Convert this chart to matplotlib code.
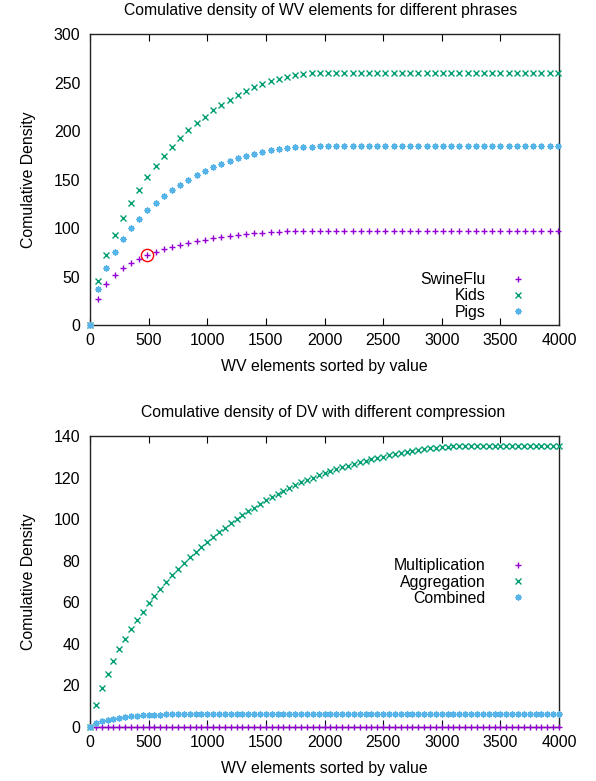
import numpy as np
import matplotlib
matplotlib.use("Agg")
import matplotlib.pyplot as plt

plt.rcParams['font.family'] = ['Liberation Sans', 'DejaVu Sans']

# ---------------- data: top chart (WV elements, step 70) ----------------
wv_x = np.arange(58) * 70
swineflu = [0, 26.8, 41.9, 51.5, 58.4, 63.6, 68.0, 72.2, 74.9, 78.0,
            80.4, 82.5, 84.5, 86.6, 88.0, 89.3, 90.4, 91.7, 92.8, 93.8,
            94.5, 95.2, 95.5, 95.9, 96.5, 96.9, 97.0, 97.1, 97.2, 97.2,
            97.2, 97.2, 97.2, 97.2, 97.2, 97.2, 97.2, 97.2, 97.2, 97.2,
            97.2, 97.2, 97.2, 97.2, 97.2, 97.2, 97.2, 97.2, 97.2, 97.2,
            97.2, 97.2, 97.2, 97.2, 97.2, 97.2, 97.2, 97.2]
kids = [0, 45.4, 72.2, 92.8, 110.3, 125.8, 139.5, 152.2, 163.6, 173.9,
        183.5, 192.4, 201.0, 208.2, 214.8, 221.3, 227.1, 231.9, 236.7, 240.9,
        245.0, 248.4, 251.2, 253.6, 255.6, 257.7, 258.8, 259.5, 259.9, 260.0,
        260.0, 260.0, 260.0, 260.0, 260.0, 260.0, 260.0, 260.0, 260.0, 260.0,
        260.0, 260.0, 260.0, 260.0, 260.0, 260.0, 260.0, 260.0, 260.0, 260.0,
        260.0, 260.0, 260.0, 260.0, 260.0, 260.0, 260.0, 260.0]
pigs = [0, 37.1, 59.1, 75.2, 88.3, 99.6, 109.6, 118.9, 126.1, 133.3,
        139.5, 144.7, 149.8, 154.6, 158.7, 162.5, 166.0, 169.1, 172.1, 174.2,
        176.3, 178.3, 180.0, 181.8, 182.8, 183.3, 183.7, 184.0, 184.2, 184.3,
        184.3, 184.3, 184.3, 184.3, 184.3, 184.3, 184.3, 184.3, 184.3, 184.3,
        184.3, 184.3, 184.3, 184.3, 184.3, 184.3, 184.3, 184.3, 184.3, 184.3,
        184.3, 184.3, 184.3, 184.3, 184.3, 184.3, 184.3, 184.3]
highlight_x = [490]
highlight_y = [72.2]

# ---------------- data: bottom chart (DV, step 50) ----------------
dv_x = np.arange(81) * 50
multiplication = [0, 0.04, 0.06, 0.08, 0.09, 0.10, 0.11, 0.11, 0.12, 0.12,
                  0.12, 0.13, 0.13, 0.13, 0.13, 0.14, 0.14, 0.14, 0.14, 0.14,
                  0.14, 0.14, 0.15, 0.15, 0.15, 0.15, 0.15, 0.15, 0.15, 0.15,
                  0.15, 0.15, 0.15, 0.15, 0.15, 0.15, 0.15, 0.15, 0.15, 0.15,
                  0.15, 0.15, 0.15, 0.15, 0.15, 0.15, 0.15, 0.15, 0.15, 0.15,
                  0.15, 0.15, 0.15, 0.15, 0.15, 0.15, 0.15, 0.15, 0.15, 0.15,
                  0.15, 0.15, 0.15, 0.15, 0.15, 0.15, 0.15, 0.15, 0.15, 0.15,
                  0.15, 0.15, 0.15, 0.15, 0.15, 0.15, 0.15, 0.15, 0.15, 0.15,
                  0.15]
aggregation = [0, 10.6, 18.8, 25.7, 31.9, 37.4, 42.5, 47.1, 51.5, 55.3,
               59.5, 63.2, 66.6, 69.9, 73.0, 76.0, 78.7, 81.6, 84.2, 86.8,
               89.0, 91.4, 93.8, 95.9, 98.0, 99.9, 101.8, 103.8, 105.5, 107.3,
               109.1, 110.7, 112.1, 113.5, 115.1, 116.4, 117.7, 118.9, 120.0, 121.1,
               122.1, 123.1, 124.0, 124.9, 125.8, 126.6, 127.4, 128.1, 128.8, 129.5,
               130.1, 130.7, 131.3, 131.8, 132.3, 132.8, 133.2, 133.6, 134.0, 134.3,
               134.6, 134.8, 135.0, 135.1, 135.2, 135.3, 135.3, 135.3, 135.3, 135.3,
               135.3, 135.3, 135.3, 135.3, 135.3, 135.3, 135.3, 135.3, 135.3, 135.3,
               135.3]
combined = [0, 1.8, 2.9, 3.5, 4.0, 4.5, 4.8, 5.1, 5.4, 5.6,
            5.8, 5.9, 6.0, 6.05, 6.1, 6.15, 6.2, 6.2, 6.25, 6.25,
            6.3, 6.3, 6.3, 6.3, 6.3, 6.3, 6.3, 6.3, 6.3, 6.3,
            6.3, 6.3, 6.3, 6.3, 6.3, 6.3, 6.3, 6.3, 6.3, 6.3,
            6.3, 6.3, 6.3, 6.3, 6.3, 6.3, 6.3, 6.3, 6.3, 6.3,
            6.3, 6.3, 6.3, 6.3, 6.3, 6.3, 6.3, 6.3, 6.3, 6.3,
            6.3, 6.3, 6.3, 6.3, 6.3, 6.3, 6.3, 6.3, 6.3, 6.3,
            6.3, 6.3, 6.3, 6.3, 6.3, 6.3, 6.3, 6.3, 6.3, 6.3,
            6.3]

top_title = "Comulative density of WV elements for different phrases"
bottom_title = "Comulative density of DV with different compression"
x_label = "WV elements sorted by value"
y_label = "Comulative Density"
top_labels = ["SwineFlu", "Kids", "Pigs"]
bottom_labels = ["Multiplication", "Aggregation", "Combined"]
x_ticks = [0, 500, 1000, 1500, 2000, 2500, 3000, 3500, 4000]
top_yticks = [0, 50, 100, 150, 200, 250, 300]
bottom_yticks = [0, 20, 40, 60, 80, 100, 120, 140]

# ---------------- styling ----------------
colors = ["#9400D3", "#009E73", "#56B4E9"]
markers = ["+", "x", (8, 2, 0)]
FS = 11.4
TFS = 11.3
W, H = 596, 781
fig = plt.figure(figsize=(W / 100, H / 100), dpi=100)

def frac_axes(l, t, r, b):
    return fig.add_axes([l / W, 1 - b / H, (r - l) / W, (b - t) / H])

ax1 = frac_axes(90, 34, 559, 325)
ax2 = frac_axes(90, 436, 559, 727)

def style(ax, ylim, yticks):
    ax.set_xlim(0, 4000)
    ax.set_ylim(*ylim)
    ax.set_xticks(x_ticks)
    ax.set_yticks(yticks)
    ax.tick_params(axis='x', direction='in', top=True, bottom=True,
                   length=5, width=0.8, labelsize=FS, pad=6)
    ax.tick_params(axis='y', direction='in', left=True, right=False,
                   length=0, labelsize=FS, pad=7)
    for s in ax.spines.values():
        s.set_linewidth(1.0)
        s.set_color("#222222")
    ax.set_xlabel(x_label, fontsize=FS, labelpad=8)
    ax.set_ylabel(y_label, fontsize=FS, labelpad=13)

def draw(ax, x, series, labels):
    for ys, c, m, lab in zip(series, colors, markers, labels):
        ax.plot(x, ys, linestyle='none', marker=m, color=c, markersize=4.4,
                markeredgewidth=1.0, label=lab, clip_on=False, zorder=3)

draw(ax1, wv_x, [swineflu, kids, pigs], top_labels)
ax1.plot(highlight_x, highlight_y, linestyle='none', marker='o', markersize=8.8,
         markerfacecolor='none', markeredgecolor='red', markeredgewidth=1.0,
         zorder=4)
draw(ax2, dv_x, [multiplication, aggregation, combined], bottom_labels)

style(ax1, (0, 300), top_yticks)
style(ax2, (0, 140), bottom_yticks)

fig.text(321 / W, 1 - 10 / H, top_title, fontsize=TFS, ha='center', va='center')
fig.text(323 / W, 1 - 413 / H, bottom_title, fontsize=TFS, ha='center', va='center')

for ax, anchor_y in ((ax1, 0.0997), (ax2, 0.498)):
    leg = ax.legend(loc='center right', bbox_to_anchor=(0.9286, anchor_y),
                    frameon=False, markerfirst=False, fontsize=FS,
                    handlelength=1.0, handletextpad=1.5, labelspacing=0.07,
                    borderpad=0, borderaxespad=0)

fig.savefig("out.png", dpi=100)
